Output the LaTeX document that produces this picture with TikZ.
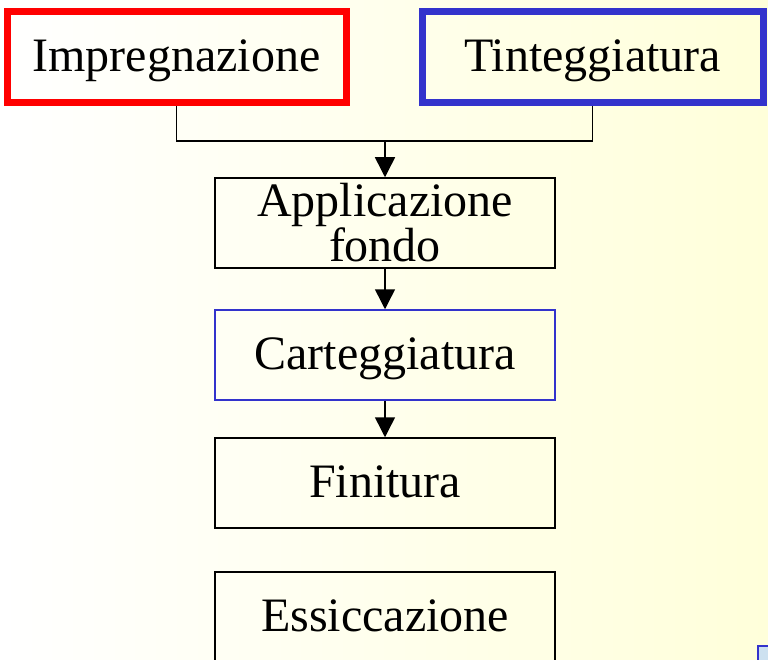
\documentclass[tikz,border=0pt]{standalone}
\usepackage{fontspec}
\setmainfont{Liberation Serif}
\usetikzlibrary{arrows.meta, positioning}
\definecolor{redline}{RGB}{255, 0, 0}
\definecolor{blueline}{RGB}{51, 51, 204}
\definecolor{paleyellow}{RGB}{255, 255, 218}
\definecolor{paleblue}{RGB}{205, 225, 240}

\begin{document}
\begin{tikzpicture}[x=1pt, y=-1pt,
    stepbox/.style={draw, line width=1.5pt, minimum width=340pt, minimum height=90pt, inner sep=0pt, font=\fontsize{48}{43}\selectfont, align=center},
    oneline/.style={text height=37pt, text depth=8pt},
    source/.style={stepbox, oneline, line width=7pt, minimum height=91pt},
    link/.style={-{Triangle[length=20pt, width=20pt]}, line width=1.5pt},
    wire/.style={line width=1.5pt},
]
    % Background
    \useasboundingbox (0, 0) rectangle (768, 660);
    \shade[left color=white, right color=paleyellow] (0, 0) rectangle (768, 660);

    % Sources
    \node[source, draw=redline, minimum width=339pt] (imp) at (176.5, 57.5) {Impregnazione};
    \node[source, draw=blueline, minimum width=341pt] (tin) at (592.5, 57.5) {Tinteggiatura};

    % Process steps
    \node[stepbox] (app) at (385, 223) {Applicazione\\fondo};
    \node[stepbox, oneline, draw=blueline] (car) at (385, 355) {Carteggiatura};
    \node[stepbox, oneline] (fin) at (385, 483) {Finitura};
    \node[stepbox, oneline] (ess) at (385, 617) {Essiccazione};

    % Connections
    \coordinate (join) at (385, 141);
    \draw[wire] (imp.south) |- (join) -| (tin.south);
    \draw[link] (join) -- (app);
    \draw[link] (app) -- (car);
    \draw[link] (car) -- (fin);

    % Corner fragment
    \draw[blueline, line width=2pt, fill=paleblue] (758, 646) rectangle (772, 664);

\end{tikzpicture}
\end{document}
